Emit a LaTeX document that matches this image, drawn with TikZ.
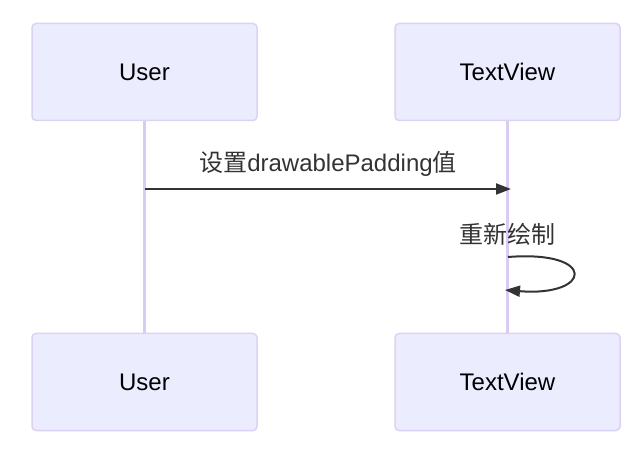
\documentclass[tikz,border=0pt]{standalone}
\usepackage{fontspec}
\setmainfont{Liberation Sans}
\newfontfamily\cjk{Noto Sans CJK SC}
\usetikzlibrary{arrows.meta,positioning,calc}
\definecolor{Canvas}{HTML}{FFFFFF}
\definecolor{ActorFill}{HTML}{ECECFF}
\definecolor{ActorLine}{HTML}{DCD3F4}
\definecolor{Life}{HTML}{D8CCF3}
\definecolor{Msg}{HTML}{333333}
\begin{document}
\begin{tikzpicture}[x=1pt,y=-1pt,font=\fontsize{24}{28}\selectfont,actor/.style={rectangle,rounded corners=4pt,draw=ActorLine,line width=1.5pt,fill=ActorFill,minimum width=225pt,minimum height=97pt,text=black},lifeline/.style={draw=Life,line width=2.6pt},msgline/.style={draw=Msg,line width=2pt,-{Triangle[length=15pt,width=11pt]}},msglabel/.style={text=Msg,inner sep=0pt}]
\fill[Canvas] (0,0) rectangle (640,454);
\node[actor] (userTop) at (144.5,72) {User};
\node[actor] (viewTop) at (507.5,72) {TextView};
\node[actor] (userBot) at (144.5,382) {User};
\node[actor] (viewBot) at (507.5,382) {TextView};
\draw[lifeline] (userTop.south)--(userBot.north);
\draw[lifeline] (viewTop.south)--(viewBot.north);
\coordinate (m1s) at (145,189);
\coordinate (m1e) at (511,189);
\draw[msgline] (m1s)--node[msglabel,above=12pt]{{\cjk 设置}drawablePadding{\cjk 值}}(m1e);
\coordinate (m2s) at (508,257);
\coordinate (m2e) at (505,290);
\node[msglabel] (m2lab) at (507,234) {\cjk 重新绘制};
\draw[msgline] (m2s) .. controls (598,250) and (592,297) .. (m2e);
\end{tikzpicture}
\end{document}
